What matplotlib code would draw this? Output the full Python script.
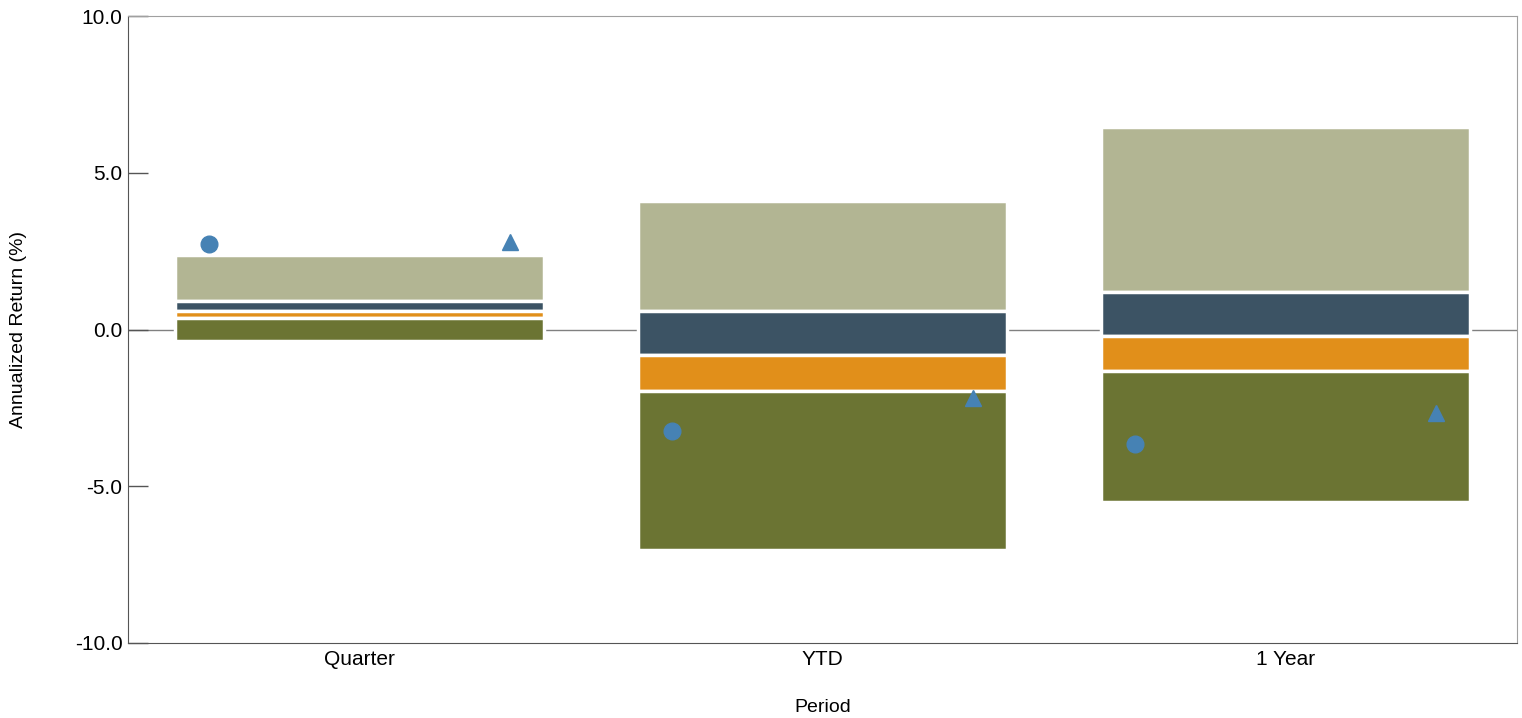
import matplotlib
matplotlib.use("Agg")
import matplotlib.pyplot as plt
import numpy as np

plt.rcParams['font.family'] = ['Liberation Sans', 'DejaVu Sans']

# Періоди та межі перцентилів (5-й, 25-й, медіана, 75-й, 95-й)
periods = ["Quarter", "YTD", "1 Year"]
p05 = [2.38, 4.10, 6.45]
p25 = [0.90, 0.58, 1.19]
p50 = [0.60, -0.82, -0.21]
p75 = [0.36, -1.96, -1.31]
p95 = [-0.38, -7.03, -5.50]

# Окремі точки (коло та трикутник)
circle_vals = [2.72, -3.25, -3.66]
triangle_vals = [2.78, -2.18, -2.66]

band_colors = ["#B2B593", "#3C5364", "#E18F1A", "#6B7433"]
marker_color = "#4682B4"

fig = plt.figure(figsize=(15.22, 7.18), dpi=100)
ax = fig.add_axes([128 / 1522, 75 / 718, 1389 / 1522, 627 / 718])

x = np.arange(len(periods))
width = 0.795

# Лінія нуля позаду стовпців
ax.axhline(0, color="#808080", lw=1.0, zorder=1)

tops = [p05, p25, p50, p75]
bottoms = [p25, p50, p75, p95]
for top, bot, col in zip(tops, bottoms, band_colors):
    t = np.array(top)
    b = np.array(bot)
    ax.bar(x, t - b, bottom=b, width=width, color=col,
           edgecolor="white", linewidth=2.5, zorder=2)

ax.plot(x - 0.325, circle_vals, "o", color=marker_color, ms=12, zorder=3, ls="none")
ax.plot(x + 0.325, triangle_vals, "^", color=marker_color, ms=12, zorder=3, ls="none")

ax.set_xlim(-0.5, 2.5)
ax.set_ylim(-10, 10)
ax.set_xticks(x)
ax.set_xticklabels(periods, fontsize=15)
ax.set_yticks([-10, -5, 0, 5, 10])
ax.set_yticklabels(["-10.0", "-5.0", "0.0", "5.0", "10.0"], fontsize=15)
ax.tick_params(axis="x", length=0, pad=5)
ax.tick_params(axis="y", direction="in", length=14.4, width=1, color="#555555", pad=4)

ax.set_xlabel("Period", fontsize=14, labelpad=22)
ax.set_ylabel("Annualized Return (%)", fontsize=14, labelpad=34)

for side in ["left", "bottom"]:
    ax.spines[side].set_color("#555555")
for side in ["top", "right"]:
    ax.spines[side].set_color("#A0A0A0")

fig.savefig("out.png", dpi=100)
